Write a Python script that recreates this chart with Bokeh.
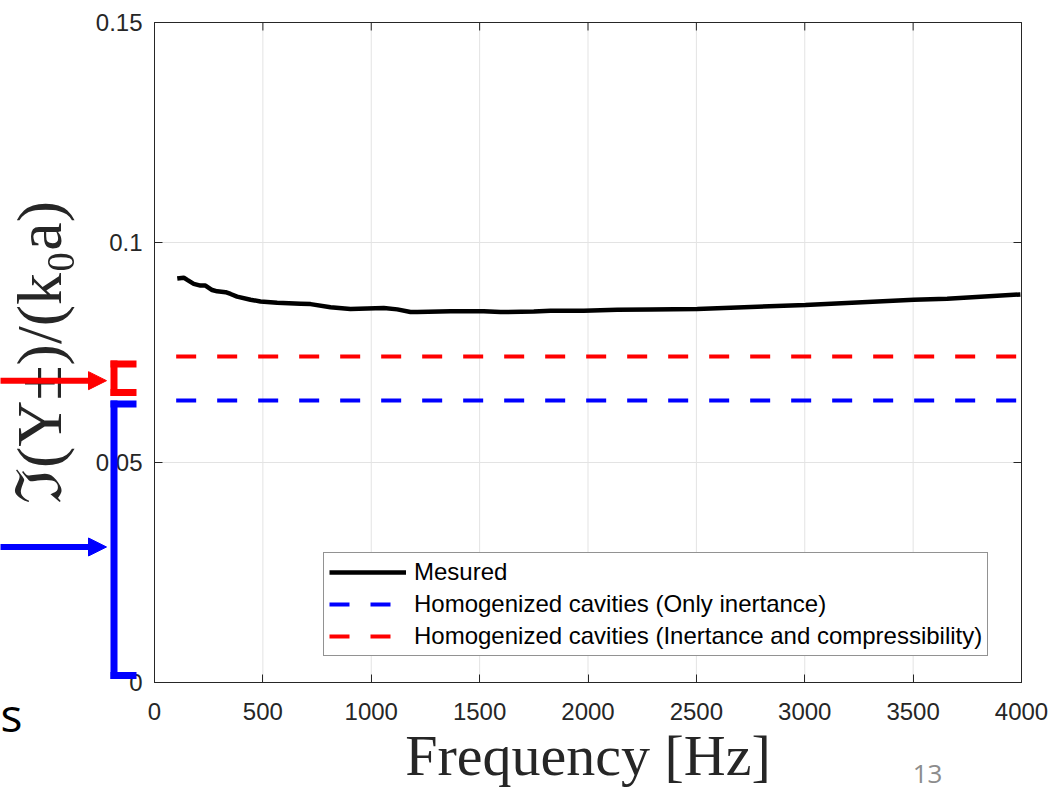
from bokeh.plotting import figure
from bokeh.models import Arrow, NormalHead, Label, FixedTicker, Legend, LegendItem, LinearAxis
from bokeh.embed import file_html
from bokeh.resources import INLINE

# ---- data ----
freq_measured = [105, 135, 151, 181, 212, 235, 266, 289, 328, 351, 381, 443, 489, 566,
                 674, 720, 812, 904, 1058, 1120, 1181, 1212, 1366, 1519, 1596, 1750,
                 1827, 1981, 2135, 2288, 2504, 3003, 3503, 3657, 3995]
im_measured = [0.0918, 0.0920, 0.0915, 0.0906, 0.0902, 0.0902, 0.0892, 0.0889, 0.0887,
               0.0883, 0.0877, 0.0870, 0.0866, 0.0863, 0.0861, 0.0860, 0.0853, 0.0849,
               0.0851, 0.0848, 0.0842, 0.0842, 0.0844, 0.0844, 0.0842, 0.0843, 0.0845,
               0.0845, 0.0847, 0.0848, 0.0849, 0.0858, 0.0870, 0.0872, 0.0882]
freq_model = [100, 4000]
only_inertance = [0.0641, 0.0641]
inertance_compress = [0.0741, 0.0741]

x_ticks = [0, 500, 1000, 1500, 2000, 2500, 3000, 3500, 4000]
y_ticks = [0, 0.05, 0.1, 0.15]
y_tick_labels = ["0", "0.05", "0.1", "0.15"]

labels = ["Mesured",
          "Homogenized cavities (Only inertance)",
          "Homogenized cavities (Inertance and compressibility)"]

AX = "#262626"
GRID = "#e3e3e3"
TICK_FONT = "Liberation Sans"
LATEX_FONT = "Liberation Serif"

# ---- page geometry: the whole page is the plotting frame, the axes box sits inside ----
W, H = 1058, 793
BOX_LEFT, BOX_RIGHT, BOX_TOP, BOX_BOTTOM = 154, 1021, 22, 682   # px of the axes box
X0, X1 = 0, 4000
Y0, Y1 = 0, 0.15
px_per_hz = (BOX_RIGHT - BOX_LEFT) / (X1 - X0)
px_per_unit = (BOX_BOTTOM - BOX_TOP) / (Y1 - Y0)


def cx(px):   # canvas x (px) -> data x
    return X0 + (px - BOX_LEFT) / px_per_hz


def cy(py):   # canvas y (px) -> data y
    return Y0 + (BOX_BOTTOM - py) / px_per_unit


p = figure(width=W, height=H, min_border=0, min_border_left=0, min_border_right=0,
           min_border_top=0, min_border_bottom=0,
           x_range=(cx(0), cx(W)), y_range=(cy(H), cy(0)),
           x_axis_location=None, y_axis_location=None,
           output_backend="svg", toolbar_location=None,
           background_fill_color="white", border_fill_color="white")
p.outline_line_color = None
p.grid.visible = False

# grid lines and axes box
TL = 8  # tick length, px
p.segment(x0=x_ticks, y0=[Y0] * len(x_ticks), x1=x_ticks, y1=[Y1] * len(x_ticks),
          line_color=GRID, line_width=1)
p.segment(x0=[X0] * len(y_ticks), y0=y_ticks, x1=[X1] * len(y_ticks), y1=y_ticks,
          line_color=GRID, line_width=1)
p.quad(left=[X0], right=[X1], bottom=[Y0], top=[Y1], fill_color=None, line_color=AX, line_width=1)
# ticks on top and right edges (inward)
p.segment(x0=x_ticks, y0=[Y1] * len(x_ticks), x1=x_ticks, y1=[Y1 - TL / px_per_unit] * len(x_ticks),
          line_color=AX, line_width=1)
p.segment(x0=[X1] * len(y_ticks), y0=y_ticks, x1=[X1 - TL / px_per_hz] * len(y_ticks), y1=y_ticks,
          line_color=AX, line_width=1)

xaxis = LinearAxis(fixed_location=Y0, bounds=(X0, X1), ticker=FixedTicker(ticks=x_ticks))
yaxis = LinearAxis(fixed_location=X0, bounds=(Y0, Y1), ticker=FixedTicker(ticks=y_ticks))
for ax in (xaxis, yaxis):
    ax.axis_line_color = AX
    ax.major_tick_line_color = AX
    ax.major_tick_in = TL
    ax.major_tick_out = 0
    ax.minor_tick_line_color = None
    ax.major_label_text_font = TICK_FONT
    ax.major_label_text_font_size = "24px"
    ax.major_label_text_color = AX
    ax.axis_label_text_font = LATEX_FONT
    ax.axis_label_text_font_style = "normal"
    ax.axis_label_text_color = AX
yaxis.major_label_overrides = {t: s for t, s in zip(y_ticks, y_tick_labels)}
xaxis.major_label_standoff = 20
yaxis.major_label_standoff = 12
xaxis.axis_label = "Frequency [Hz]"
xaxis.axis_label_text_font_size = "58px"
xaxis.axis_label_standoff = 0
yaxis.axis_label = "ℑ(Y±)/(k₀a)"
yaxis.axis_label_text_font_size = "64px"
yaxis.axis_label_standoff = 18
p.add_layout(xaxis, "below")
p.add_layout(yaxis, "left")

r_meas = p.line(freq_measured, im_measured, line_color="black", line_width=4.5)
r_blue = p.line(freq_model, only_inertance, line_color="#0000ff", line_width=4, line_dash="20 21")
r_red = p.line(freq_model, inertance_compress, line_color="#ff0000", line_width=4, line_dash="20 21")

legend = Legend(items=[LegendItem(label=labels[0], renderers=[r_meas]),
                       LegendItem(label=labels[1], renderers=[r_blue]),
                       LegendItem(label=labels[2], renderers=[r_red])],
                location=(323, H - 656), glyph_width=77, glyph_height=24, label_height=24,
                label_standoff=8, spacing=4, padding=5, margin=0,
                label_text_font=TICK_FONT, label_text_font_size="24px", label_text_color="black",
                border_line_color=AX, border_line_width=1, background_fill_color="white",
                background_fill_alpha=1)
p.add_layout(legend, "center")

# ---- slide annotations (arrows and brackets left of the axes) ----
red_bracket = (0.0724, 0.0659)     # (top, bottom), data units
blue_bracket = (0.0633, 0.0016)
red_arrow_y = 0.0686
blue_arrow_y = 0.0308

STROKE = 7
bar_x = cx(113.5)
arm_x0, arm_x1 = cx(110), cx(136)
arrow_x0, arrow_tip = cx(-5), cx(106)

for col, arrow_y, (top, bot) in (("#ff0000", red_arrow_y, red_bracket),
                                  ("#0000ff", blue_arrow_y, blue_bracket)):
    p.add_layout(Arrow(end=NormalHead(size=18, fill_color=col, line_color=col, line_width=1),
                       x_start=arrow_x0, y_start=arrow_y, x_end=arrow_tip, y_end=arrow_y,
                       line_color=col, line_width=6))
    half = STROKE / 2 / px_per_unit
    p.add_layout(Arrow(end=None, x_start=bar_x, y_start=top + half, x_end=bar_x, y_end=bot - half,
                       line_color=col, line_width=STROKE))
    for yy in (top, bot):
        p.add_layout(Arrow(end=None, x_start=arm_x0, y_start=yy, x_end=arm_x1, y_end=yy,
                           line_color=col, line_width=STROKE))

p.add_layout(Label(x=cx(0), y=cy(713), text="s", text_align="left",
                   text_baseline="alphabetic", text_font="Open Sans", text_font_size="46px",
                   text_color="black"))
p.add_layout(Label(x=cx(927), y=cy(782), text="13", text_align="center",
                   text_baseline="bottom", text_font="Open Sans", text_font_size="26px",
                   text_color="#8c8c8c"))

open("out.html", "w").write(file_html(p, INLINE))
